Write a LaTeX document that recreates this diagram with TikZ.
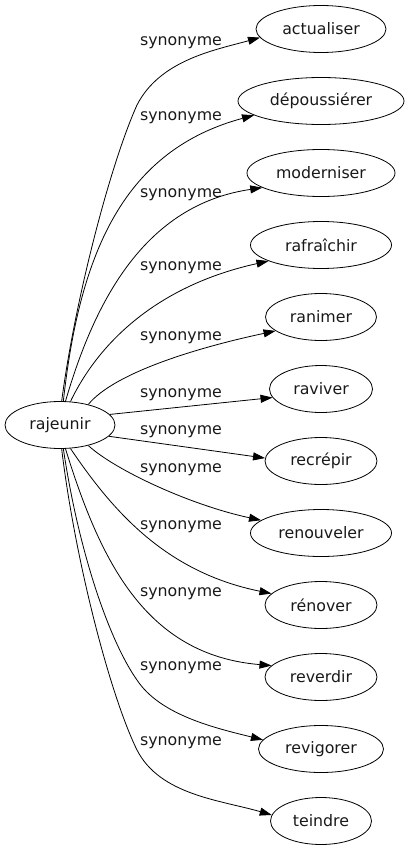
\documentclass[tikz,border=0pt]{standalone}
\usepackage{fontspec}
\setmainfont{DejaVu Sans}
\usetikzlibrary{arrows.meta,shapes.geometric}
\begin{document}
\begin{tikzpicture}[x=1pt,y=-1pt,
  txt/.style={font=\fontsize{15.8}{18}\selectfont,text=black!90},
  term/.style={txt,ellipse,draw,line width=0.8pt,inner sep=0pt,minimum height=47pt},
  lbl/.style={txt,inner sep=0pt},
  link/.style={draw,line width=0.8pt,-{Triangle[length=12pt,width=8pt]}}]
\useasboundingbox (0,0) rectangle (408,851);
\node[term,minimum width=110pt] (r) at (60,425) {rajeunir};
\node[term,minimum width=130pt] (t1) at (321,29) {actualiser};
\node[term,minimum width=166pt] (t2) at (321,101) {dépoussiérer};
\node[term,minimum width=148pt] (t3) at (321,173) {moderniser};
\node[term,minimum width=141pt] (t4) at (321,245) {rafraîchir};
\node[term,minimum width=111pt] (t5) at (321,317) {ranimer};
\node[term,minimum width=103pt] (t6) at (321,389) {raviver};
\node[term,minimum width=112pt] (t7) at (321,461) {recrépir};
\node[term,minimum width=141pt] (t8) at (321,533) {renouveler};
\node[term,minimum width=112pt] (t9) at (321,605) {rénover};
\node[term,minimum width=112pt] (t10) at (321,677) {reverdir};
\node[term,minimum width=125pt] (t11) at (321,749) {revigorer};
\node[term,minimum width=101pt] (t12) at (321,821) {teindre};
\node[lbl] (l1) at (181,43) {synonyme};
\node[lbl] (l2) at (181,118) {synonyme};
\node[lbl] (l3) at (181,195) {synonyme};
\node[lbl] (l4) at (181,268) {synonyme};
\node[lbl] (l5) at (181,338) {synonyme};
\node[lbl] (l6) at (181,395) {synonyme};
\node[lbl] (l7) at (181,432) {synonyme};
\node[lbl] (l8) at (181,470) {synonyme};
\node[lbl] (l9) at (181,527) {synonyme};
\node[lbl] (l10) at (181,594) {synonyme};
\node[lbl] (l11) at (181,668) {synonyme};
\node[lbl] (l12) at (181,743) {synonyme};
\draw[link] (r.86) .. controls (75,300) and (110,165) .. (137,105) .. controls (160,60) and (215,50) .. (t1.188);
\draw[link] (r.82) .. controls (80,250) and (125,150) .. (t2.192);
\draw[link] (r.77) .. controls (95,300) and (145,205) .. (t3.194);
\draw[link] (r.66) .. controls (100,340) and (160,285) .. (t4.197);
\draw[link] (r.36) .. controls (115,372) and (200,347) .. (t5.197);
\draw[link] (r.12) -- (t6.190);
\draw[link] (r.-13) -- (t7.177);
\draw[link] (r.-36) .. controls (115,470) and (190,505) .. (t8.168);
\draw[link] (r.-66) .. controls (112,510) and (165,572) .. (t9.167);
\draw[link] (r.-77) .. controls (100,560) and (145,655) .. (t10.167);
\draw[link] (r.-82) .. controls (80,560) and (112,645) .. (137,680) .. controls (160,715) and (215,728) .. (t11.171);
\draw[link] (r.-86) .. controls (75,560) and (110,695) .. (137,750) .. controls (160,795) and (220,800) .. (t12.173);
\end{tikzpicture}
\end{document}
